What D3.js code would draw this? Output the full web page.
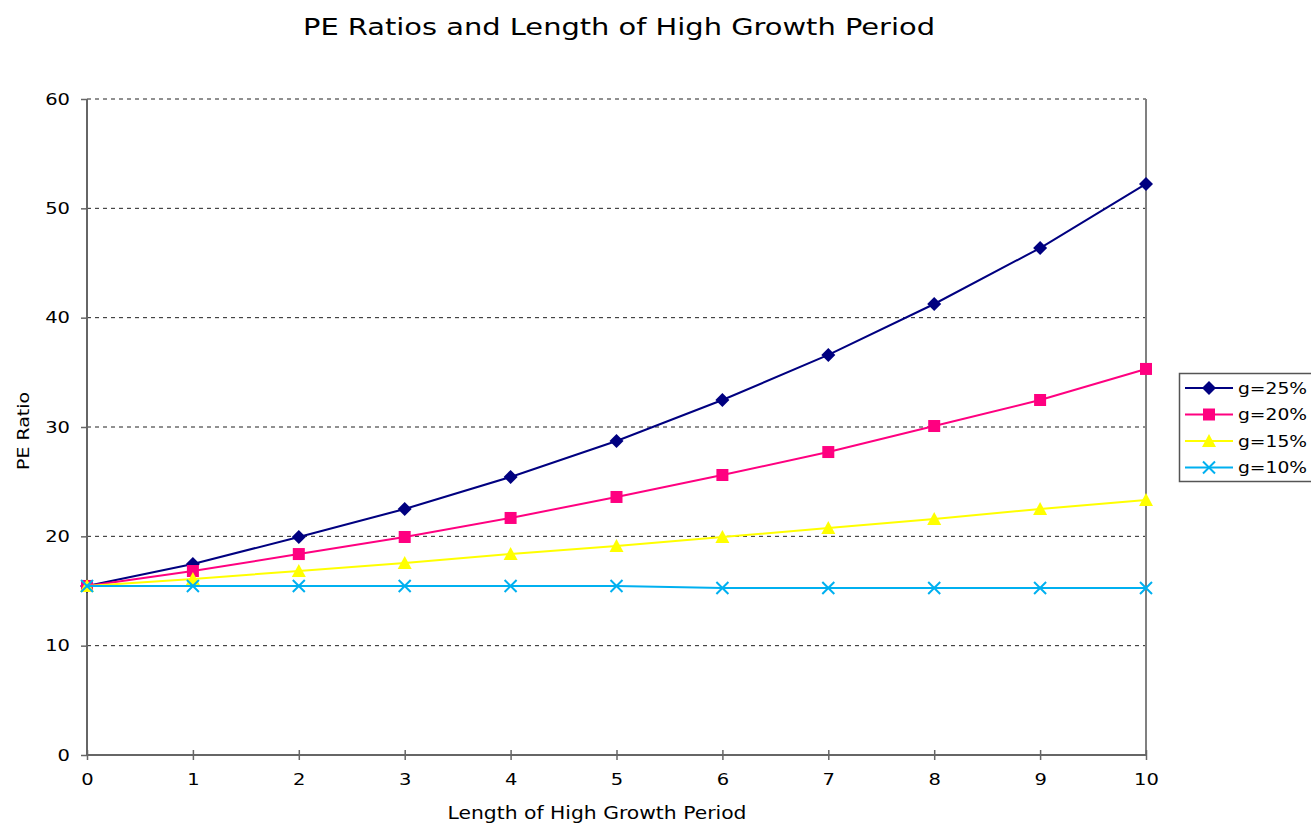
<!DOCTYPE html>
<html>
<head>
<meta charset="utf-8">
<script src="https://cdn.jsdelivr.net/npm/d3@7"></script>
<style>
  html, body { margin: 0; padding: 0; background: #fff; }
  svg { display: block; font-family: "DejaVu Sans", Verdana, sans-serif; }
</style>
</head>
<body>
<svg id="chart" width="1311" height="824"></svg>
<script>
// Years of high growth on the x axis
const years = [0, 1, 2, 3, 4, 5, 6, 7, 8, 9, 10];
const yTicks = [0, 10, 20, 30, 40, 50, 60];

// PE ratio for each growth rate
const pe25 = [15.46, 17.47, 19.94, 22.50, 25.43, 28.72, 32.47, 36.59, 41.25, 46.37, 52.23];
const pe20 = [15.46, 16.83, 18.38, 19.94, 21.68, 23.60, 25.61, 27.71, 30.09, 32.47, 35.31];
const pe15 = [15.46, 16.10, 16.83, 17.56, 18.38, 19.12, 19.94, 20.76, 21.59, 22.50, 23.32];
const pe10 = [15.46, 15.46, 15.46, 15.46, 15.46, 15.46, 15.27, 15.27, 15.27, 15.27, 15.27];

const seriesNames = ["g=25%", "g=20%", "g=15%", "g=10%"];
const seriesColors = ["#000080", "#FF0080", "#FFFF00", "#00B0F0"];
const seriesShapes = ["diamond", "square", "triangle", "cross"];
const seriesValues = [pe25, pe20, pe15, pe10];

const svg = d3.select("#chart");
const m = { left: 87, right: 1146, top: 99, bottom: 755 };
const stretch = 1.22; // wide lettering used for all labels

const x = d3.scaleLinear().domain([0, 10]).range([m.left, m.right]);
const y = d3.scaleLinear().domain([0, 60]).range([m.bottom, m.top]);

// Title
svg.append("text")
  .attr("x", 619).attr("y", 35)
  .attr("text-anchor", "middle")
  .attr("font-size", 23)
  .attr("textLength", 632)
  .attr("lengthAdjust", "spacingAndGlyphs")
  .attr("fill", "#000")
  .text("PE Ratios and Length of High Growth Period");

// Horizontal dashed gridlines
svg.append("g").selectAll("line")
  .data(yTicks.filter(d => d > 0))
  .join("line")
  .attr("x1", m.left).attr("x2", m.right)
  .attr("y1", d => y(d)).attr("y2", d => y(d))
  .attr("stroke", "#222")
  .attr("stroke-width", 1)
  .attr("stroke-dasharray", "4,4");

// Right border of plot area
svg.append("line")
  .attr("x1", m.right).attr("x2", m.right)
  .attr("y1", m.top).attr("y2", m.bottom)
  .attr("stroke", "#808080").attr("stroke-width", 2);

// Y axis
const yAxis = svg.append("g").attr("transform", `translate(${m.left},0)`)
  .call(d3.axisLeft(y).tickValues(yTicks).tickSize(6).tickPadding(0).tickFormat(d3.format("d")));
yAxis.select(".domain").attr("stroke", "#666").attr("stroke-width", 2).attr("d", `M0,${m.top}V${m.bottom}`);
yAxis.selectAll(".tick line").attr("stroke", "#666").attr("stroke-width", 1.5);
yAxis.selectAll(".tick text")
  .attr("x", -17 / stretch)
  .attr("transform", `scale(${stretch},1)`)
  .attr("font-size", 16).attr("fill", "#000")
  .attr("font-family", "DejaVu Sans, Verdana, sans-serif");

// X axis
const xAxis = svg.append("g").attr("transform", `translate(0,${m.bottom})`)
  .call(d3.axisBottom(x).tickValues(years).tickSize(5).tickPadding(14).tickFormat(d3.format("d")));
xAxis.select(".domain").attr("stroke", "#666").attr("stroke-width", 2).attr("d", `M${m.left},0H${m.right}`);
xAxis.selectAll(".tick line").attr("stroke", "#666").attr("stroke-width", 1.5).attr("y1", -5).attr("y2", 5);
xAxis.selectAll(".tick text")
  .attr("transform", `scale(${stretch},1)`)
  .attr("font-size", 16).attr("fill", "#000")
  .attr("font-family", "DejaVu Sans, Verdana, sans-serif");

// Axis titles
svg.append("text")
  .attr("x", 597).attr("y", 819)
  .attr("text-anchor", "middle")
  .attr("font-size", 17)
  .attr("textLength", 299)
  .attr("lengthAdjust", "spacingAndGlyphs")
  .text("Length of High Growth Period");

svg.append("text")
  .attr("transform", "translate(29,431) rotate(-90)")
  .attr("text-anchor", "middle")
  .attr("font-size", 16)
  .attr("textLength", 78)
  .attr("lengthAdjust", "spacingAndGlyphs")
  .text("PE Ratio");

// Marker drawing
function drawMarker(g, shape, color, cx, cy) {
  if (shape === "diamond") {
    g.append("path").attr("d", `M${cx},${cy - 7}L${cx + 7},${cy}L${cx},${cy + 7}L${cx - 7},${cy}Z`)
      .attr("fill", color);
  } else if (shape === "square") {
    g.append("rect").attr("x", cx - 6).attr("y", cy - 6).attr("width", 12).attr("height", 12)
      .attr("fill", color);
  } else if (shape === "triangle") {
    g.append("path").attr("d", `M${cx},${cy - 7}L${cx + 7},${cy + 6}L${cx - 7},${cy + 6}Z`)
      .attr("fill", color);
  } else if (shape === "cross") {
    g.append("path").attr("d", `M${cx - 6},${cy - 6}L${cx + 6},${cy + 6}M${cx + 6},${cy - 6}L${cx - 6},${cy + 6}`)
      .attr("stroke", color).attr("stroke-width", 2).attr("fill", "none");
  }
}

const line = d3.line().x((d, i) => x(years[i])).y(d => y(d));

seriesValues.forEach((vals, s) => {
  const g = svg.append("g");
  g.append("path")
    .attr("d", line(vals))
    .attr("fill", "none")
    .attr("stroke", seriesColors[s])
    .attr("stroke-width", 2);
  vals.forEach((v, i) => drawMarker(g, seriesShapes[s], seriesColors[s], x(years[i]), y(v)));
});

// Legend
const lg = svg.append("g");
lg.append("rect")
  .attr("x", 1179.5).attr("y", 373.5).attr("width", 140).attr("height", 108)
  .attr("fill", "#fff").attr("stroke", "#555").attr("stroke-width", 1.5);
seriesNames.forEach((name, s) => {
  const ly = 388 + s * 26.5;
  lg.append("line").attr("x1", 1185).attr("x2", 1233).attr("y1", ly).attr("y2", ly)
    .attr("stroke", seriesColors[s]).attr("stroke-width", 2);
  drawMarker(lg, seriesShapes[s], seriesColors[s], 1209, ly);
  lg.append("text").attr("x", 1238 / 1.17).attr("y", ly + 6)
    .attr("transform", "scale(1.17,1)")
    .attr("font-size", 16).attr("fill", "#000").text(name);
});
</script>
</body>
</html>
